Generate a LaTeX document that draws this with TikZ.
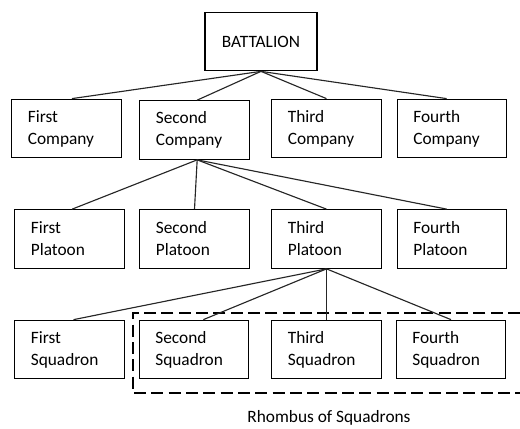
\documentclass[tikz,border=0pt]{standalone}
\usepackage{fontspec}
\setmainfont{Carlito}
\usetikzlibrary{positioning}

\begin{document}
\begin{tikzpicture}[
    x=0.75pt, y=-0.75pt,
    box/.style={draw, line width=0.8pt, minimum width=82pt, minimum height=44pt,
                text width=58pt, inner xsep=12pt, align=left,
                font=\fontsize{13}{16.5}\selectfont, fill=white},
    topbox/.style={box, align=center, text width=84pt, inner xsep=0pt},
    link/.style={line width=0.85pt, black!85},
    group/.style={dashed, line width=1.6pt, dash pattern=on 9pt off 4pt},
]
\useasboundingbox (0,0) rectangle (520,428);

% ===== Battalion =====
\node[topbox] (bat) at (261, 41.5) {BATTALION};

% ===== Companies =====
\node[box] (comp1) at (66.5, 128.5) {First\\Company};
\node[box] (comp2) at (194.5, 130) {Second\\Company};
\node[box] (comp3) at (326.5, 128.5) {Third\\Company};
\node[box] (comp4) at (452, 128.5) {Fourth\\Company};

% ===== Platoons =====
\node[box] (plat1) at (69.5, 239) {First\\Platoon};
\node[box] (plat2) at (194.5, 239) {Second\\Platoon};
\node[box] (plat3) at (326.5, 239) {Third\\Platoon};
\node[box] (plat4) at (452, 239) {Fourth\\Platoon};

% ===== Squadrons =====
\node[box] (sq1) at (69.5, 349.5) {First\\Squadron};
\node[box] (sq2) at (194, 349.5) {Second\\Squadron};
\node[box] (sq3) at (326.5, 349.5) {Third\\Squadron};
\node[box] (sq4) at (451, 349.5) {Fourth\\Squadron};

% ===== Rhombus group =====
\coordinate (gtop) at (520, 313);
\coordinate (gbot) at (520, 393);
\draw[group] (gtop) -- (133, 313) -- (133, 393) -- (gbot);
\node[font=\fontsize{13}{15}\selectfont] (glbl) at (329, 418) {Rhombus of Squadrons};

% ===== Connections =====
\draw[link] (bat.south) -- ([xshift=4pt]comp1.north);
\draw[link] (bat.south) -- ([xshift=2pt]comp2.north);
\draw[link] (bat.south) -- (comp3.north);
\draw[link] (bat.south) -- ([xshift=-4pt]comp4.north);
\draw[link] ([xshift=2pt]comp2.south) -- ([xshift=2pt]plat1.north);
\draw[link] ([xshift=2pt]comp2.south) -- (plat2.north);
\draw[link] ([xshift=2pt]comp2.south) -- (plat3.north);
\draw[link] ([xshift=2pt]comp2.south) -- ([xshift=-4pt]plat4.north);
\draw[link] (plat3.south) -- ([xshift=3pt]sq1.north);
\draw[link] (plat3.south) -- ([xshift=7pt]sq2.north);
\draw[link] (plat3.south) -- (sq3.north);
\draw[link] (plat3.south) -- (sq4.north);
\end{tikzpicture}
\end{document}
